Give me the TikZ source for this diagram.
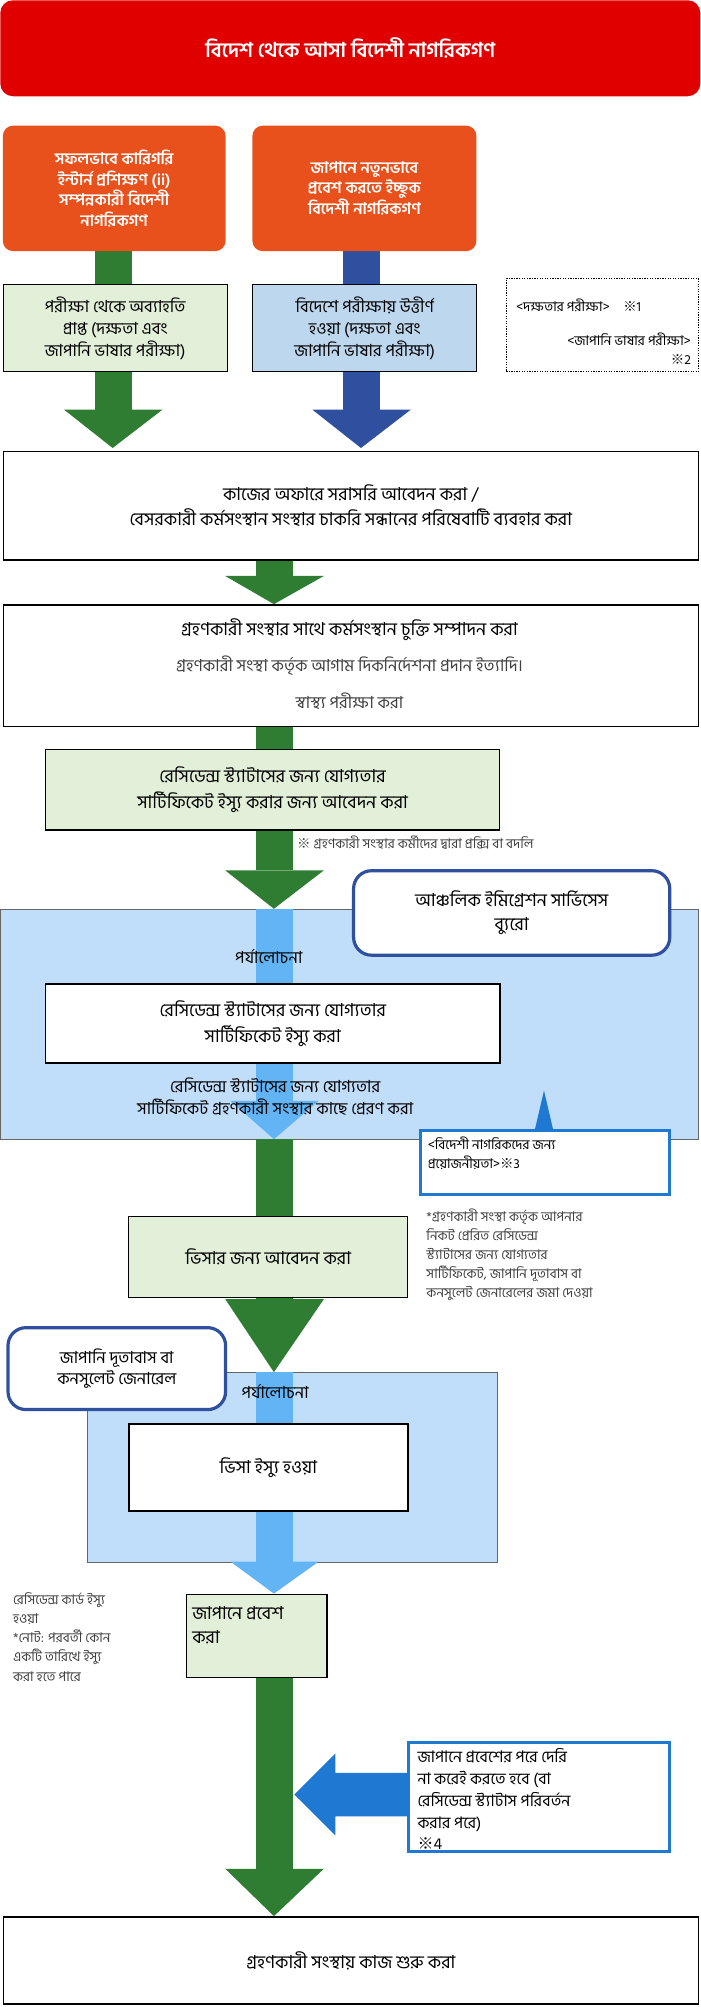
\documentclass[tikz,border=0pt]{standalone}
\usepackage{fontspec}
\setmainfont[Script=Bengali]{Hind Siliguri}
\newfontfamily\cjkfont{Noto Sans CJK JP}
\newcommand{\kome}{{\cjkfont ※}}
\begin{document}
\begin{tikzpicture}[x=1pt,y=-1pt,
  lbl/.style={align=center,font=\fontsize{13}{17}\selectfont,inner sep=0},
  sml/.style={align=left,font=\fontsize{10.5}{15}\selectfont,inner sep=0,anchor=north west,text=black!75},
  gbox/.style={draw=black,line width=1pt,fill=lgreen},
  wbox/.style={draw=black,line width=1.2pt,fill=white},
  pill/.style={draw=dblue,line width=2.5pt,fill=white,rounded corners=14pt},
  callout/.style={draw=mblue,line width=2.5pt,fill=white}]
\definecolor{lgreen}{HTML}{E2EFD9}
\definecolor{lblue}{HTML}{BDD7EE}
\definecolor{rblue}{HTML}{C0DDF9}
\definecolor{dgreen}{HTML}{2E7D32}
\definecolor{dblue}{HTML}{2F4F9F}
\definecolor{mblue}{HTML}{1F78D1}
\definecolor{sky}{HTML}{62B4F4}
\definecolor{bred}{HTML}{E00000}
\definecolor{orng}{HTML}{E8501C}
\useasboundingbox (0,0) rectangle (547,1568);
% shafts
\fill[dgreen] (74,196) rectangle (103,320);
\fill[dgreen] (50,320) -- (127,320) -- (88,350) -- cycle;
\fill[dblue] (268,196) rectangle (297,320);
\fill[dblue] (244,320) -- (321,320) -- (282,350) -- cycle;
\fill[dgreen] (200,437) rectangle (229,450);
\fill[dgreen] (176,450) -- (253,450) -- (214,472) -- cycle;
\fill[dgreen] (200,567) rectangle (229,680);
\fill[dgreen] (176,680) -- (253,680) -- (214,710) -- cycle;
% regional region
\node[fill=rblue,draw=black!60,minimum width=545,minimum height=180,anchor=north west,inner sep=0] (reg) at (0,710) {};
\fill[sky] (200,710) rectangle (229,860);
\fill[sky] (180,860) -- (249,860) -- (214,890) -- cycle;
\fill[dgreen] (200,890) rectangle (229,1015);
\fill[dgreen] (176,1015) -- (253,1015) -- (214,1072) -- cycle;
\node[fill=rblue,draw=black!60,minimum width=320,minimum height=148,anchor=north west,inner sep=0] (reg2) at (68,1072) {};
\fill[sky] (200,1072) rectangle (229,1220);
\fill[sky] (180,1220) -- (249,1220) -- (214,1245) -- cycle;
\fill[dgreen] (200,1310) rectangle (229,1460);
\fill[dgreen] (176,1460) -- (253,1460) -- (214,1497) -- cycle;
% top
\node[fill=bred,rounded corners=10pt,minimum width=547,minimum height=75,anchor=north west,inner sep=0,text=white,font=\bfseries\fontsize{16}{20}\selectfont] (top) at (0,0) {বিদেশ থেকে আসা বিদেশী নাগরিকগণ};
\node[fill=orng,rounded corners=8pt,minimum width=174,minimum height=98,anchor=north west,text=white,lbl,font=\bfseries\fontsize{12.5}{16}\selectfont] (o1) at (2,98) {সফলভাবে কারিগরি\\ইন্টার্ন প্রশিক্ষণ (ii)\\সম্পন্নকারী বিদেশী\\নাগরিকগণ};
\node[fill=orng,rounded corners=8pt,minimum width=175,minimum height=98,anchor=north west,text=white,lbl,font=\bfseries\fontsize{12.5}{16}\selectfont] (o2) at (197,98) {জাপানে নতুনভাবে\\প্রবেশ করতে ইচ্ছুক\\বিদেশী নাগরিকগণ};
\node[gbox,minimum width=175,minimum height=68,anchor=north west,lbl] (g1) at (2,222) {পরীক্ষা থেকে অব্যাহতি\\প্রাপ্ত (দক্ষতা এবং\\জাপানি ভাষার পরীক্ষা)};
\node[draw=black,line width=1pt,fill=lblue,minimum width=175,minimum height=68,anchor=north west,lbl] (b1) at (197,222) {বিদেশে পরীক্ষায় উত্তীর্ণ\\হওয়া (দক্ষতা এবং\\জাপানি ভাষার পরীক্ষা)};
\node[draw=black,densely dotted,line width=1pt,minimum width=150,minimum height=73,anchor=north west] (dot) at (395,217) {};
\node[sml,text=black] (d1) at (403,233) {<দক্ষতার পরীক্ষা>\quad \kome1};
\node[sml,text=black,align=right,anchor=north east] (d2) at (540,260) {<জাপানি ভাষার পরীক্ষা>\\\kome2};
\node[wbox,minimum width=543,minimum height=85,anchor=north west,lbl,font=\fontsize{14}{20}\selectfont] (a1) at (2,352) {কাজের অফারে সরাসরি আবেদন করা /\\বেসরকারী কর্মসংস্থান সংস্থার চাকরি সন্ধানের পরিষেবাটি ব্যবহার করা};
\node[wbox,minimum width=543,minimum height=95,anchor=north west] (a2) at (2,472) {};
\node[lbl,font=\fontsize{14}{20}\selectfont] (a2t) at (273,492) {গ্রহণকারী সংস্থার সাথে কর্মসংস্থান চুক্তি সম্পাদন করা};
\node[lbl,text=black!75] (a2u) at (273,520) {গ্রহণকারী সংস্থা কর্তৃক আগাম দিকনির্দেশনা প্রদান ইত্যাদি।};
\node[lbl,text=black!75] (a2v) at (273,548) {স্বাস্থ্য পরীক্ষা করা};
\node[gbox,minimum width=355,minimum height=63,anchor=north west,lbl,font=\fontsize{14}{20}\selectfont] (c1) at (35,585) {রেসিডেন্স স্ট্যাটাসের জন্য যোগ্যতার\\সার্টিফিকেট ইস্যু করার জন্য আবেদন করা};
\node[sml] (n1) at (232,653) {\kome{} গ্রহণকারী সংস্থার কর্মীদের দ্বারা প্রক্সি বা বদলি};
\node[pill,minimum width=247,minimum height=66,anchor=north west,lbl,font=\fontsize{14}{19}\selectfont] (p1) at (275,679) {আঞ্চলিক ইমিগ্রেশন সার্ভিসেস\\ব্যুরো};
\node[lbl] (r1) at (210,747) {পর্যালোচনা};
\node[wbox,minimum width=355,minimum height=62,anchor=north west,lbl,font=\fontsize{14}{20}\selectfont] (c2) at (35,768) {রেসিডেন্স স্ট্যাটাসের জন্য যোগ্যতার\\সার্টিফিকেট ইস্যু করা};
\node[lbl] (c3) at (215,857) {রেসিডেন্স স্ট্যাটাসের জন্য যোগ্যতার\\সার্টিফিকেট গ্রহণকারী সংস্থার কাছে প্রেরণ করা};
\fill[mblue] (418,882) -- (425,852) -- (432,882) -- cycle;
\node[callout,minimum width=195,minimum height=50,anchor=north west] (k1) at (327,882) {};
\node[sml,text=black] (k1t) at (334,888) {<বিদেশী নাগরিকদের জন্য\\প্রয়োজনীয়তা>\kome3};
\node[gbox,minimum width=218,minimum height=63,anchor=north west,lbl,font=\fontsize{14}{20}\selectfont] (v1) at (100,950) {ভিসার জন্য আবেদন করা};
\node[sml] (n2) at (333,944) {*গ্রহণকারী সংস্থা কর্তৃক আপনার\\নিকট প্রেরিত রেসিডেন্স\\স্ট্যাটাসের জন্য যোগ্যতার\\সার্টিফিকেট, জাপানি দূতাবাস বা\\কনসুলেট জেনারেলের জমা দেওয়া};
\node[pill,minimum width=170,minimum height=64,anchor=north west,lbl] (p2) at (5,1036) {জাপানি দূতাবাস বা\\কনসুলেট জেনারেল};
\node[lbl] (r2) at (215,1087) {পর্যালোচনা};
\node[wbox,minimum width=218,minimum height=68,anchor=north west,lbl,font=\fontsize{14}{20}\selectfont] (v2) at (100,1112) {ভিসা ইস্যু হওয়া};
\node[gbox,minimum width=110,minimum height=65,anchor=north west] (e1) at (145,1245) {};
\node[lbl,align=left,anchor=north west,font=\fontsize{14}{19}\selectfont] (e1t) at (150,1255) {জাপানে প্রবেশ\\করা};
\node[sml] (n3) at (10,1244) {রেসিডেন্স কার্ড ইস্যু\\হওয়া\\*নোট: পরবর্তী কোন\\একটি তারিখে ইস্যু\\করা হতে পারে};
\fill[mblue] (320,1385) -- (262,1385) -- (262,1370) -- (230,1402) -- (262,1434) -- (262,1419) -- (320,1419) -- cycle;
\node[callout,minimum width=204,minimum height=85,anchor=north west] (k2) at (318,1360) {};
\node[lbl,align=left,anchor=north west,font=\fontsize{12.5}{17}\selectfont] (k2t) at (326,1366) {জাপানে প্রবেশের পরে দেরি\\না করেই করতে হবে (বা\\রেসিডেন্স স্ট্যাটাস পরিবর্তন\\করার পরে)\\\kome4};
\node[wbox,minimum width=543,minimum height=68,anchor=north west,lbl,font=\fontsize{14}{20}\selectfont] (f1) at (2,1497) {গ্রহণকারী সংস্থায় কাজ শুরু করা};
\end{tikzpicture}
\end{document}
